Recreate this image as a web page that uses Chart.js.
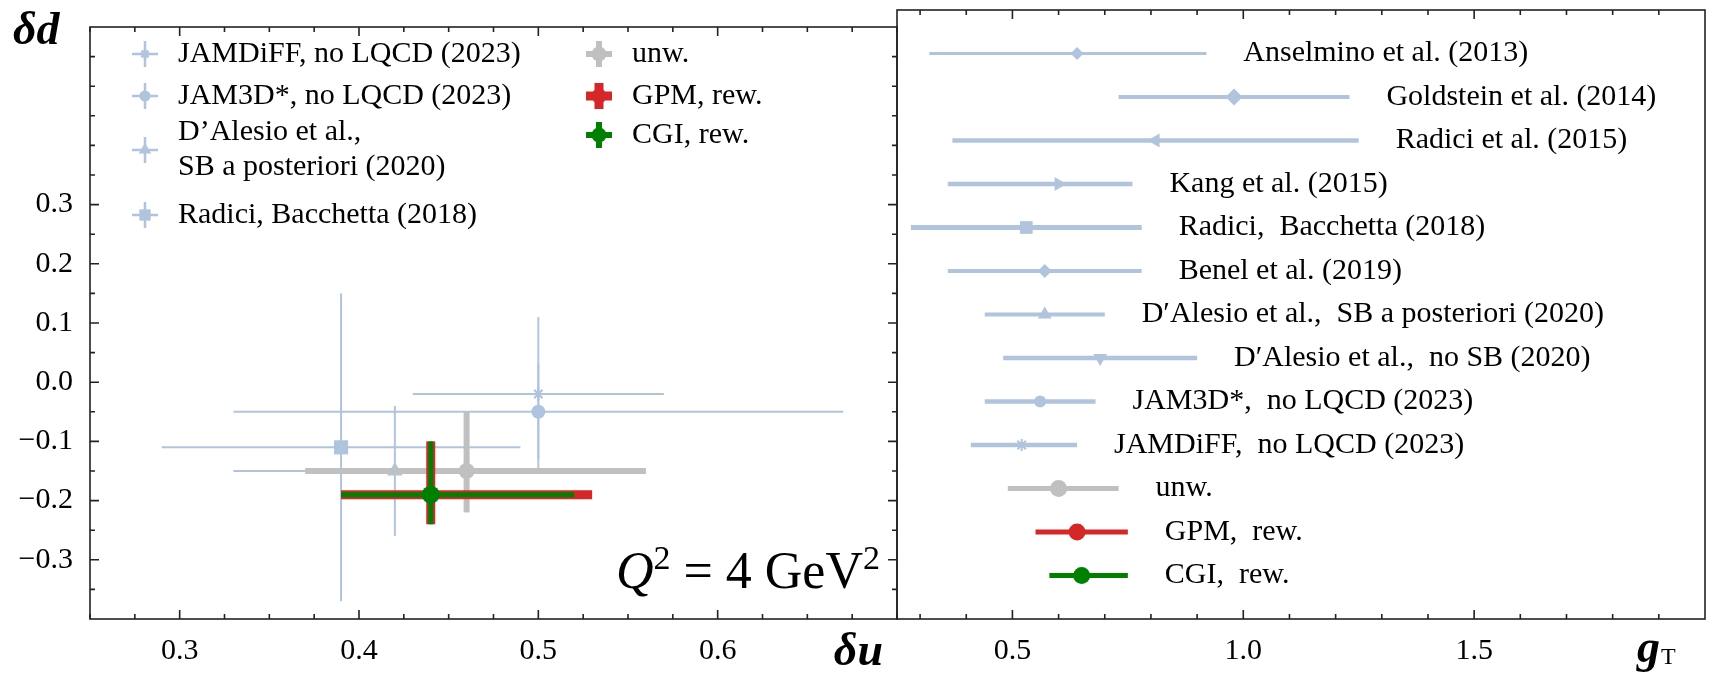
<!DOCTYPE html>
<html>
<head>
<meta charset="utf-8">
<script src="https://cdn.jsdelivr.net/npm/chart.js@4.4.0/dist/chart.umd.min.js"></script>
<style>
  html, body { margin: 0; padding: 0; background: #fff; }
  #wrap { position: relative; width: 1713px; height: 675px; overflow: hidden; background: #fff; }
  canvas { position: absolute; top: 0; }
</style>
</head>
<body>
<div id="wrap">
  <canvas id="cLeft" width="899" height="675" style="left:0"></canvas>
  <canvas id="cRight" width="826" height="675" style="left:887px"></canvas>
</div>
<script>
// pannello sinistro: δu vs δd
const leftLegend = [
  ['JAMDiFF, no LQCD (2023)'],
  ['JAM3D*, no LQCD (2023)'],
  ['D’Alesio et al.,', 'SB a posteriori (2020)'],
  ['Radici, Bacchetta (2018)'],
  ['unw.'],
  ['GPM, rew.'],
  ['CGI, rew.']
];
const du   = [0.50, 0.50, 0.42, 0.39, 0.46, 0.44, 0.44];
const duLo = [0.43, 0.33, 0.33, 0.29, 0.37, 0.39, 0.39];
const duHi = [0.57, 0.67, 0.51, 0.49, 0.56, 0.53, 0.52];
const dd   = [-0.02, -0.05, -0.15, -0.11, -0.15, -0.19, -0.19];
const ddLo = [-0.145, -0.13, -0.26, -0.37, -0.22, -0.24, -0.24];
const ddHi = [0.11, 0.03, -0.04, 0.15, -0.05, -0.10, -0.10];

// pannello destro: g_T
const gtNames = [
  'Anselmino et al. (2013)', 'Goldstein et al. (2014)', 'Radici et al. (2015)', 'Kang et al. (2015)',
  'Radici,  Bacchetta (2018)', 'Benel et al. (2019)', 'D′Alesio et al.,  SB a posteriori (2020)',
  'D′Alesio et al.,  no SB (2020)', 'JAM3D*,  no LQCD (2023)', 'JAMDiFF,  no LQCD (2023)',
  'unw.', 'GPM,  rew.', 'CGI,  rew.'
];
const gt   = [0.64, 0.98, 0.81, 0.60, 0.53, 0.57, 0.57, 0.69, 0.56, 0.52, 0.60, 0.64, 0.65];
const gtLo = [0.32, 0.73, 0.37, 0.36, 0.28, 0.36, 0.44, 0.48, 0.44, 0.41, 0.49, 0.55, 0.58];
const gtHi = [0.92, 1.23, 1.25, 0.76, 0.78, 0.78, 0.70, 0.90, 0.68, 0.64, 0.73, 0.75, 0.75];

// tick etichettati
const duTicks = [0.3, 0.4, 0.5, 0.6];
const ddTicks = [-0.3, -0.2, -0.1, 0.0, 0.1, 0.2, 0.3];
const gtTicks = [0.5, 1.0, 1.5];

// stili (separati dai dati)
const LB = '#b0c4de', GREY = '#c0c0c0', RED = '#d62728', GREEN = '#008000';
const leftColor  = [LB, LB, LB, LB, GREY, RED, GREEN];
const leftStyle  = ['star', 'circle', 'triangle', 'rect', 'circle', 'circle', 'circle'];
const leftRadius = [6, 7, 9, 10, 8, 8, 9];
const leftWidth  = [2, 2, 2, 2, 6, 9, 5];
const leftOrder  = [40, 35, 30, 45, 20, 10, 0];

const gtColor  = [LB, LB, LB, LB, LB, LB, LB, LB, LB, LB, GREY, RED, GREEN];
const gtStyle  = ['rectRot', 'rectRot', 'triangle', 'triangle', 'rect', 'rectRot', 'triangle', 'triangle', 'circle', 'star', 'circle', 'circle', 'circle'];
const gtRot    = [0, 0, -90, 90, 0, 0, 0, 180, 0, 0, 0, 0, 0];
const gtRadius = [6.5, 8.5, 8, 8, 9, 7, 8, 8, 6, 6, 8.5, 8.5, 8.5];
const gtWidth  = [3, 4, 4.5, 4.5, 5, 4, 4, 4.5, 4.5, 4.5, 5, 5, 5];

const SERIF = '"Liberation Serif", "DejaVu Serif", serif';
Chart.defaults.font.family = SERIF;
Chart.defaults.color = '#000';

const fmt = v => (v < 0 ? '−' : '') + Math.abs(v).toFixed(1);

// cornice + tacche verso l'interno su tutti i lati
const frameTicks = {
  id: 'frameTicks',
  afterDraw(chart, args, o) {
    const { ctx, chartArea: a, scales } = chart;
    ctx.save();
    ctx.strokeStyle = '#222';
    ctx.lineWidth = 1.6;
    ctx.strokeRect(a.left, a.top, a.right - a.left, a.bottom - a.top);
    const isMajor = (list, v) => list.some(m => Math.abs(m - v) < 1e-6);
    ctx.beginPath();
    for (let v = o.xFrom; v <= o.xTo + 1e-9; v += o.xStep) {
      const px = scales.x.getPixelForValue(v);
      const len = isMajor(o.xMajor, v) ? 9 : 5;
      ctx.moveTo(px, a.bottom); ctx.lineTo(px, a.bottom - len);
      ctx.moveTo(px, a.top);    ctx.lineTo(px, a.top + len);
    }
    if (o.yStep) {
      for (let v = o.yFrom; v <= o.yTo + 1e-9; v += o.yStep) {
        const py = scales.y.getPixelForValue(v);
        const len = isMajor(o.yMajor, v) ? 9 : 5;
        ctx.moveTo(a.left, py);  ctx.lineTo(a.left + len, py);
        ctx.moveTo(a.right, py); ctx.lineTo(a.right - len, py);
      }
    }
    ctx.stroke();
    ctx.restore();
  }
};

function plus(ctx, x, y, arm, color, w) {
  ctx.strokeStyle = color;
  ctx.lineWidth = w;
  ctx.beginPath();
  ctx.moveTo(x - arm, y); ctx.lineTo(x + arm, y);
  ctx.moveTo(x, y - arm); ctx.lineTo(x, y + arm);
  ctx.stroke();
}

function marker(ctx, i, x, y, r) {
  ctx.fillStyle = leftColor[i];
  ctx.strokeStyle = leftColor[i];
  Chart.helpers.drawPoint(ctx, {
    pointStyle: leftStyle[i], radius: r, rotation: 0,
    borderWidth: leftStyle[i] === 'star' ? 2 : 0
  }, x, y);
}

// legenda, titoli assi e Q^2 del pannello sinistro
const leftDecor = {
  id: 'leftDecor',
  afterDraw(chart) {
    const { ctx, chartArea: a } = chart;
    ctx.save();
    // legenda: colonna 1 (letteratura), colonna 2 (questo lavoro)
    const rows = [[145, 54], [145, 96], [145, 150], [145, 215], [599, 54], [599, 96], [599, 135]];
    ctx.font = '30px ' + SERIF;
    ctx.textBaseline = 'middle';
    leftLegend.forEach((lines, i) => {
      const [x, y] = rows[i];
      if (i < 4) {
        plus(ctx, x, y, 13, LB, 2.5);
        marker(ctx, i, x, y, leftRadius[i] * 0.8);
      } else {
        plus(ctx, x, y, 13, leftColor[i], i === 5 ? 9 : 6);
        marker(ctx, i, x, y, 7.5);
      }
      ctx.fillStyle = '#000';
      const tx = x + 33;
      if (lines.length === 1) ctx.fillText(lines[0], tx, y);
      else { ctx.fillText(lines[0], tx, y - 18); ctx.fillText(lines[1], tx, y + 17); }
    });

    // titoli assi
    ctx.textBaseline = 'alphabetic';
    ctx.font = 'bold italic 46px ' + SERIF;
    ctx.textAlign = 'left';
    ctx.fillText('δd', 13, 44);
    ctx.textAlign = 'right';
    ctx.fillText('δu', a.right - 14, 665);

    // Q^2 = 4 GeV^2
    const parts = [
      { t: 'Q', f: 'italic 52px ' + SERIF, dy: 0 },
      { t: '2', f: '34px ' + SERIF, dy: -19 },
      { t: ' = 4 GeV', f: '52px ' + SERIF, dy: 0 },
      { t: '2', f: '34px ' + SERIF, dy: -19 }
    ];
    let total = 0;
    parts.forEach(p => { ctx.font = p.f; p.w = ctx.measureText(p.t).width; total += p.w; });
    let x = a.right - 17 - total;
    ctx.textAlign = 'left';
    parts.forEach(p => { ctx.font = p.f; ctx.fillText(p.t, x, 588 + p.dy); x += p.w; });
    ctx.restore();
  }
};

// etichette delle righe e titolo asse del pannello destro
const rightDecor = {
  id: 'rightDecor',
  afterDraw(chart) {
    const { ctx, chartArea: a, scales: { x, y } } = chart;
    ctx.save();
    ctx.fillStyle = '#000';
    ctx.font = '30px ' + SERIF;
    ctx.textBaseline = 'middle';
    ctx.textAlign = 'left';
    gtNames.forEach((name, i) => {
      ctx.fillText(name, x.getPixelForValue(gtHi[i] + 0.08), y.getPixelForValue(i + 1));
    });
    ctx.textBaseline = 'alphabetic';
    ctx.font = 'bold italic 46px ' + SERIF;
    const gx = a.right - 68;
    ctx.fillText('g', gx, 662);
    const gw = ctx.measureText('g').width;
    ctx.font = '24px ' + SERIF;
    ctx.fillText('T', gx + gw + 1, 664);
    ctx.restore();
  }
};

// dataset sinistra: barra orizzontale con marker + barra verticale
const leftSets = [];
du.forEach((u, i) => {
  leftSets.push({
    data: [{ x: duLo[i], y: dd[i] }, { x: u, y: dd[i] }, { x: duHi[i], y: dd[i] }],
    showLine: true, borderColor: leftColor[i], borderWidth: leftWidth[i],
    pointRadius: [0, leftRadius[i], 0], pointStyle: leftStyle[i],
    pointBackgroundColor: leftColor[i], pointBorderColor: leftColor[i],
    pointBorderWidth: leftStyle[i] === 'star' ? 2 : 0,
    order: leftOrder[i]
  });
  leftSets.push({
    data: [{ x: u, y: ddLo[i] }, { x: u, y: ddHi[i] }],
    showLine: true, borderColor: leftColor[i], borderWidth: leftWidth[i],
    pointRadius: 0, order: leftOrder[i] + 1
  });
});

const rightSets = gt.map((g, i) => ({
  data: [{ x: gtLo[i], y: i + 1 }, { x: g, y: i + 1 }, { x: gtHi[i], y: i + 1 }],
  showLine: true, borderColor: gtColor[i], borderWidth: gtWidth[i],
  pointRadius: [0, gtRadius[i], 0], pointStyle: gtStyle[i], pointRotation: gtRot[i],
  pointBackgroundColor: gtColor[i], pointBorderColor: gtColor[i],
  pointBorderWidth: gtStyle[i] === 'star' ? 2 : 0
}));

const common = {
  responsive: false, animation: false, events: [],
  plugins: { legend: { display: false }, tooltip: { enabled: false } }
};

new Chart(document.getElementById('cLeft'), {
  type: 'scatter',
  data: { datasets: leftSets },
  options: {
    ...common,
    layout: { padding: { top: 10, right: 2, left: 0, bottom: 0 } },
    plugins: {
      ...common.plugins,
      frameTicks: { xFrom: 0.25, xTo: 0.7, xStep: 0.025, xMajor: duTicks,
                    yFrom: -0.35, yTo: 0.55, yStep: 0.05, yMajor: ddTicks }
    },
    scales: {
      x: {
        type: 'linear', min: 0.25, max: 0.7,
        grid: { display: false }, border: { display: false },
        afterBuildTicks: s => { s.ticks = duTicks.map(v => ({ value: v })); },
        afterFit: s => { s.height = 56; },
        ticks: { font: { size: 30 }, padding: 6, maxRotation: 0, autoSkip: false, callback: v => fmt(v) }
      },
      y: {
        type: 'linear', min: -0.4, max: 0.6,
        grid: { display: false }, border: { display: false },
        afterBuildTicks: s => { s.ticks = ddTicks.map(v => ({ value: v })); },
        afterFit: s => { s.width = 90; },
        ticks: { font: { size: 30 }, padding: 9, autoSkip: false, callback: v => fmt(v) }
      }
    }
  },
  plugins: [frameTicks, leftDecor]
});

new Chart(document.getElementById('cRight'), {
  type: 'scatter',
  data: { datasets: rightSets },
  options: {
    ...common,
    layout: { padding: { top: 10, right: 8, left: 10, bottom: 0 } },
    plugins: {
      ...common.plugins,
      frameTicks: { xFrom: 0.3, xTo: 1.9, xStep: 0.1, xMajor: gtTicks }
    },
    scales: {
      x: {
        type: 'linear', min: 0.25, max: 2.0,
        grid: { display: false }, border: { display: false },
        afterBuildTicks: s => { s.ticks = gtTicks.map(v => ({ value: v })); },
        afterFit: s => { s.height = 56; },
        ticks: { font: { size: 30 }, padding: 6, maxRotation: 0, autoSkip: false, callback: v => fmt(v) }
      },
      y: { type: 'linear', display: false, min: 0, max: 14, reverse: true }
    }
  },
  plugins: [frameTicks, rightDecor]
});
</script>
</body>
</html>
